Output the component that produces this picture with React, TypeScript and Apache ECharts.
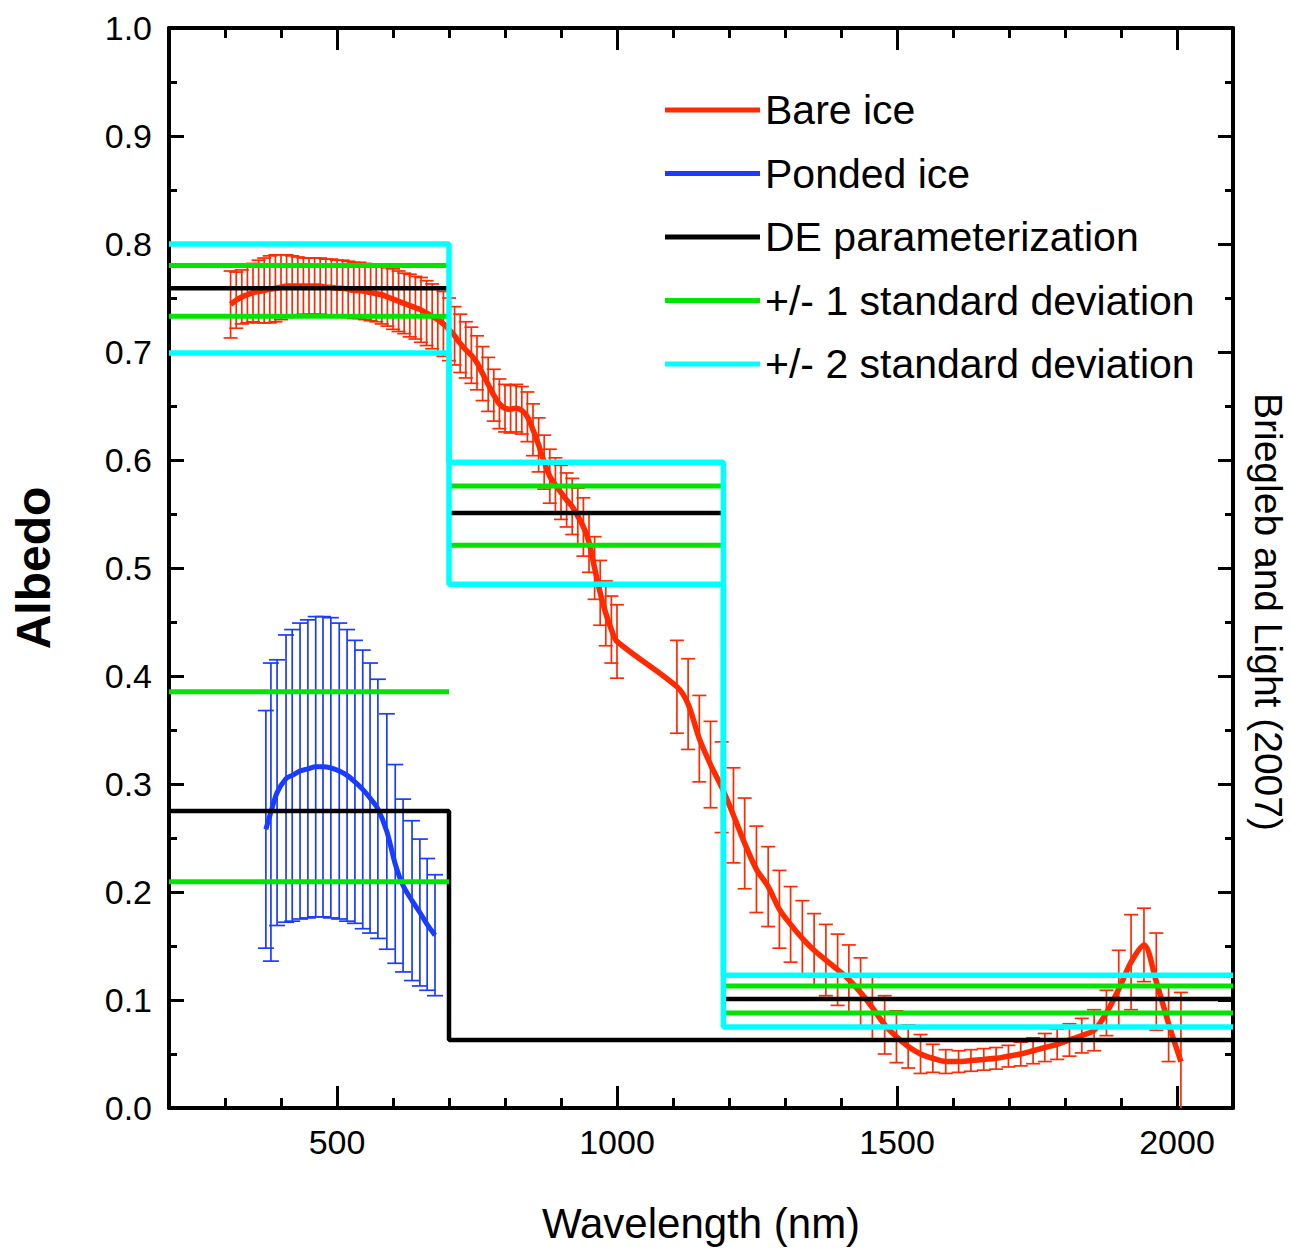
import React, { useEffect, useRef } from "react";
import * as echarts from "echarts";

// ---- tick values ----
const xMajorTicks = [500, 1000, 1500, 2000];

// ---- Bare ice (visible band, 10 nm) ----
const bareVisWl = [310, 320, 330, 340, 350, 360, 370, 380, 390, 400, 410, 420, 430, 440, 450, 460, 470, 480, 490, 500, 510, 520, 530, 540, 550, 560, 570, 580, 590, 600, 610, 620, 630, 640, 650, 660, 670, 680, 690, 700];
const bareVisMean = [0.744, 0.748, 0.751, 0.753, 0.755, 0.756, 0.757, 0.758, 0.759, 0.760, 0.761, 0.761, 0.761, 0.761, 0.761, 0.761, 0.761, 0.760, 0.760, 0.759, 0.759, 0.758, 0.757, 0.757, 0.756, 0.755, 0.754, 0.753, 0.751, 0.749, 0.747, 0.745, 0.743, 0.741, 0.739, 0.736, 0.733, 0.730, 0.726, 0.721];
const bareVisErr = [0.031, 0.026, 0.025, 0.026, 0.027, 0.029, 0.030, 0.031, 0.031, 0.030, 0.029, 0.028, 0.027, 0.026, 0.026, 0.026, 0.026, 0.026, 0.026, 0.026, 0.026, 0.026, 0.026, 0.026, 0.026, 0.026, 0.026, 0.027, 0.027, 0.028, 0.028, 0.028, 0.029, 0.029, 0.030, 0.030, 0.030, 0.030, 0.030, 0.029];

// ---- Bare ice (near IR 1, 10 nm) ----
const bareNir1Wl = [710, 720, 730, 740, 750, 760, 770, 780, 790, 800, 810, 820, 830, 840, 850, 860, 870, 880, 890, 900, 910, 920, 930, 940, 950, 960, 970, 980, 990, 1000];
const bareNir1Mean = [0.715, 0.708, 0.702, 0.697, 0.690, 0.680, 0.670, 0.660, 0.652, 0.648, 0.647, 0.648, 0.646, 0.640, 0.628, 0.614, 0.598, 0.585, 0.577, 0.570, 0.563, 0.557, 0.548, 0.538, 0.524, 0.500, 0.477, 0.458, 0.443, 0.432];
const bareNir1Err = [0.027, 0.027, 0.026, 0.026, 0.025, 0.025, 0.025, 0.024, 0.023, 0.022, 0.022, 0.022, 0.022, 0.023, 0.024, 0.025, 0.025, 0.025, 0.025, 0.025, 0.025, 0.026, 0.026, 0.027, 0.028, 0.029, 0.030, 0.030, 0.031, 0.034];

// ---- Bare ice (near IR 2, ~21 nm) ----
const bareNir2Wl = [1107, 1127, 1147, 1167, 1187, 1208, 1228, 1249, 1270, 1290, 1310, 1331, 1352, 1373, 1394, 1414, 1435, 1456, 1478, 1499, 1520, 1542, 1564, 1587, 1610, 1632, 1655, 1677, 1699, 1721, 1743, 1764, 1786, 1808, 1830, 1852, 1874, 1896, 1918, 1941, 1963, 1985, 2007];
const bareNir2Mean = [0.390, 0.374, 0.342, 0.318, 0.297, 0.271, 0.245, 0.221, 0.205, 0.184, 0.170, 0.157, 0.146, 0.137, 0.128, 0.119, 0.107, 0.093, 0.077, 0.066, 0.057, 0.050, 0.046, 0.043, 0.043, 0.044, 0.045, 0.046, 0.048, 0.050, 0.053, 0.056, 0.059, 0.063, 0.067, 0.072, 0.088, 0.110, 0.135, 0.151, 0.117, 0.078, 0.043];
const bareNir2Err = [0.043, 0.042, 0.040, 0.040, 0.042, 0.044, 0.042, 0.040, 0.037, 0.036, 0.035, 0.035, 0.034, 0.033, 0.033, 0.032, 0.032, 0.030, 0.027, 0.024, 0.020, 0.018, 0.013, 0.011, 0.010, 0.010, 0.010, 0.010, 0.010, 0.011, 0.012, 0.013, 0.014, 0.015, 0.016, 0.019, 0.021, 0.036, 0.044, 0.034, 0.045, 0.035, 0.064];

// ---- Ponded ice ----
const pondWl = [373, 382, 393, 409, 420, 434, 448, 462, 475, 489, 504, 518, 532, 546, 559, 573, 589, 604, 618, 634, 648, 661, 675];
const pondMean = [0.258, 0.274, 0.292, 0.305, 0.308, 0.312, 0.314, 0.316, 0.316, 0.315, 0.312, 0.308, 0.302, 0.295, 0.287, 0.277, 0.256, 0.226, 0.206, 0.192, 0.181, 0.170, 0.160];
const pondErr = [0.110, 0.138, 0.123, 0.133, 0.135, 0.137, 0.138, 0.139, 0.139, 0.139, 0.137, 0.135, 0.131, 0.129, 0.125, 0.120, 0.109, 0.092, 0.080, 0.074, 0.068, 0.061, 0.056];

// ---- DE parameterization bands ----
const bandBounds = [200, 700, 1190, 2100];
const deBare = [0.759, 0.551, 0.101];
const sd1BareHi = [0.780, 0.576, 0.113];
const sd1BareLo = [0.733, 0.521, 0.088];
const sd2BareHi = [0.800, 0.598, 0.123];
const sd2BareLo = [0.699, 0.485, 0.075];
const pondBounds = [200, 700, 2100];
const dePond = [0.275, 0.063];
const sd1PondHi = [0.3855];
const sd1PondLo = [0.2095];

const legendNames = ["Bare ice", "Ponded ice", "DE parameterization", "+/- 1 standard deviation", "+/- 2 standard deviation"];

const RED = "#ff2a00";
const BLUE = "#1a3cff";
const GREEN = "#00e400";
const CYAN = "#00ffff";
const FONT = "'Liberation Sans', Arial, sans-serif";

function stepData(bounds: number[], vals: number[]) {
  const out: number[][] = [];
  vals.forEach((v, i) => {
    out.push([bounds[i], v]);
    out.push([bounds[i + 1], v]);
  });
  return out;
}

function segSeries(name: string, bounds: number[], vals: number[], color: string, width: number, z: number) {
  return vals.map((v, i) => ({
    type: "line",
    name,
    data: [[bounds[i], v], [bounds[i + 1], v]],
    symbol: "none",
    lineStyle: { color, width, cap: "butt" },
    itemStyle: { color },
    z,
    silent: true,
  }));
}

function errSeries(name: string, wl: number[], mean: number[], err: number[], color: string, cap: number) {
  return {
    type: "custom",
    name,
    silent: true,
    clip: true,
    z: 2,
    data: wl.map((w, i) => [w, mean[i], err[i]]),
    encode: { x: 0, y: 1 },
    renderItem: (_p: any, api: any) => {
      const x = api.value(0);
      const m = api.value(1);
      const e = api.value(2);
      const hi = api.coord([x, m + e]);
      const lo = api.coord([x, m - e]);
      const style = { stroke: color, lineWidth: 1.7 };
      return {
        type: "group",
        children: [
          { type: "line", shape: { x1: hi[0], y1: hi[1], x2: lo[0], y2: lo[1] }, style },
          { type: "line", shape: { x1: hi[0] - cap, y1: hi[1], x2: hi[0] + cap, y2: hi[1] }, style },
          { type: "line", shape: { x1: lo[0] - cap, y1: lo[1], x2: lo[0] + cap, y2: lo[1] }, style },
        ],
      };
    },
  };
}

export default function App() {
  const ref = useRef<HTMLDivElement>(null);
  useEffect(() => {
    if (!ref.current) return;
    const chart = echarts.init(ref.current, null, { renderer: "svg" });
    const bareWl = [...bareVisWl, ...bareNir1Wl, ...bareNir2Wl];
    const bareMean = [...bareVisMean, ...bareNir1Mean, ...bareNir2Mean];
    const bareErr = [...bareVisErr, ...bareNir1Err, ...bareNir2Err];

    const axisLine = { show: true, onZero: false, lineStyle: { color: "#000", width: 4 } };
    const xBase = { type: "value", min: 200, max: 2100, splitLine: { show: false } };
    const yBase = { type: "value", min: 0, max: 1, interval: 0.1, splitLine: { show: false } };

    const option: any = {
      animation: false,
      backgroundColor: "#fff",
      textStyle: { fontFamily: FONT },
      grid: { left: 169, right: 58, top: 28, bottom: 149, containLabel: false },
      legend: {
        orient: "vertical",
        left: 660,
        top: 81,
        itemGap: 15.5,
        itemWidth: 95,
        itemHeight: 5,
        icon: "rect",
        data: legendNames,
        textStyle: { fontSize: 41, lineHeight: 48, color: "#000", fontFamily: FONT },
        selectedMode: false,
      },
      xAxis: [
        {
          ...xBase,
          position: "bottom",
          interval: 100,
          axisLine,
          axisTick: { show: true, inside: true, length: 10, lineStyle: { color: "#000", width: 3 } },
          axisLabel: { show: false },
        },
        {
          ...xBase,
          position: "bottom",
          interval: 100,
          axisLine: { show: false, onZero: false },
          axisTick: { show: true, inside: true, length: 22, customValues: xMajorTicks, lineStyle: { color: "#000", width: 3 } },
          axisLabel: {
            show: true,
            customValues: xMajorTicks,
            fontSize: 34,
            color: "#000",
            margin: 17,
            fontFamily: FONT,
            formatter: (v: number) => String(v),
          },
          name: "Wavelength (nm)",
          nameLocation: "middle",
          nameGap: 94,
          nameTextStyle: { fontSize: 42, color: "#000", fontFamily: FONT },
        },
        {
          ...xBase,
          position: "top",
          interval: 100,
          axisLine,
          axisTick: { show: true, inside: true, length: 10, lineStyle: { color: "#000", width: 3 } },
          axisLabel: { show: false },
        },
        {
          ...xBase,
          position: "top",
          interval: 100,
          axisLine: { show: false, onZero: false },
          axisTick: { show: true, inside: true, length: 22, customValues: xMajorTicks, lineStyle: { color: "#000", width: 3 } },
          axisLabel: { show: false },
        },
      ],
      yAxis: [
        {
          ...yBase,
          position: "left",
          axisLine,
          axisTick: { show: true, inside: true, length: 15, lineStyle: { color: "#000", width: 3 } },
          minorTick: { show: true, splitNumber: 2, length: 8, lineStyle: { color: "#000", width: 3 } },
          minorSplitLine: { show: false },
          axisLabel: { show: true, fontSize: 34, color: "#000", margin: 17, fontFamily: FONT, formatter: (v: number) => v.toFixed(1) },
          name: "Albedo",
          nameLocation: "middle",
          nameRotate: 90,
          nameGap: 112,
          nameTextStyle: { fontSize: 48, fontWeight: "bold", color: "#000", fontFamily: FONT },
        },
        {
          ...yBase,
          position: "right",
          axisLine,
          axisTick: { show: true, inside: true, length: 15, lineStyle: { color: "#000", width: 3 } },
          minorTick: { show: true, splitNumber: 2, length: 8, lineStyle: { color: "#000", width: 3 } },
          minorSplitLine: { show: false },
          axisLabel: { show: false },
        },
      ],
      graphic: [
        {
          type: "text",
          x: 1268,
          y: 612,
          rotation: -Math.PI / 2,
          style: {
            text: "Briegleb and Light (2007)",
            fontSize: 39,
            fontFamily: FONT,
            fill: "#000",
            align: "center",
            verticalAlign: "middle",
          },
        },
      ],
      series: [
        errSeries("bare err", bareWl, bareMean, bareErr, RED, 7),
        errSeries("pond err", pondWl, pondMean, pondErr, BLUE, 8),
        {
          type: "line",
          name: "Bare ice",
          data: bareWl.map((w, i) => [w, bareMean[i]]),
          symbol: "none",
          smooth: 0.3,
          lineStyle: { color: RED, width: 5.5 },
          itemStyle: { color: RED },
          z: 3,
          silent: true,
        },
        {
          type: "line",
          name: "Ponded ice",
          data: pondWl.map((w, i) => [w, pondMean[i]]),
          symbol: "none",
          smooth: 0.3,
          lineStyle: { color: BLUE, width: 5 },
          itemStyle: { color: BLUE },
          z: 3,
          silent: true,
        },
        ...segSeries("DE parameterization", bandBounds, deBare, "#000", 4.5, 4),
        {
          type: "line",
          name: "DE parameterization",
          data: stepData(pondBounds, dePond),
          symbol: "none",
          lineStyle: { color: "#000", width: 4.5 },
          itemStyle: { color: "#000" },
          z: 4,
          silent: true,
        },
        ...segSeries("+/- 1 standard deviation", bandBounds, sd1BareHi, GREEN, 5, 5),
        ...segSeries("+/- 1 standard deviation", bandBounds, sd1BareLo, GREEN, 5, 5),
        ...segSeries("+/- 1 standard deviation", pondBounds, sd1PondHi, GREEN, 5, 5),
        ...segSeries("+/- 1 standard deviation", pondBounds, sd1PondLo, GREEN, 5, 5),
        {
          type: "line",
          name: "+/- 2 standard deviation",
          data: stepData(bandBounds, sd2BareHi),
          symbol: "none",
          lineStyle: { color: CYAN, width: 5.5 },
          itemStyle: { color: CYAN },
          z: 5,
          silent: true,
        },
        {
          type: "line",
          name: "+/- 2 standard deviation",
          data: stepData(bandBounds, sd2BareLo),
          symbol: "none",
          lineStyle: { color: CYAN, width: 5.5 },
          itemStyle: { color: CYAN },
          z: 5,
          silent: true,
        },
      ],
    };
    chart.setOption(option);
    return () => chart.dispose();
  }, []);
  return <div ref={ref} style={{ position: "absolute", left: 0, top: 0, width: 1291, height: 1257 }} />;
}
